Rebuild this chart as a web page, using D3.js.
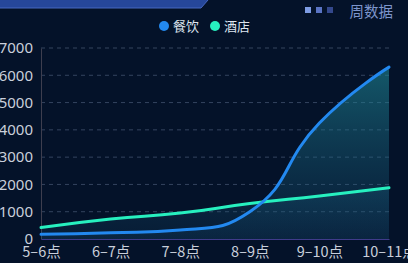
<!DOCTYPE html>
<html><head><meta charset="utf-8">
<script src="https://cdn.jsdelivr.net/npm/d3@7"></script>
<style>
html,body{margin:0;padding:0;background:#041229;}
svg{display:block;}
</style></head>
<body>
<svg id="c" width="408" height="263"></svg>
<script>
const categories = ["5–6点","6–7点","7–8点","8–9点","9–10点","10–11点"];
const seriesNames = ["餐饮","酒店"];
const dining = [170, 230, 330, 1000, 4250, 6300];
const hotel = [420, 730, 950, 1300, 1580, 1880];
const yTicks = [0,1000,2000,3000,4000,5000,6000,7000];
const colors = ["#2389f0", "#27f0bf"];

const svg = d3.select("#c");
const W = 408, H = 263;
const x = d3.scalePoint().domain(categories).range([41, 389]);
const y = d3.scaleLinear().domain([0, 7000]).range([239, 48]);

svg.append("rect").attr("width", W).attr("height", H).attr("fill", "#041229");

// top banner
svg.append("path").attr("d", "M0,0 L208,0 L201,8 L0,8 Z").attr("fill", "#26479a");
svg.append("path").attr("d", "M0,8 L201,8 L208,0").attr("fill", "none").attr("stroke", "#4668c0").attr("stroke-width", 1);

// top-right squares + text
const sq = [["#7e9ce4",305],["#5a74c4",316],["#34488c",327]];
sq.forEach(([c,xx]) => svg.append("rect").attr("x", xx).attr("y", 7).attr("width", 6).attr("height", 6).attr("fill", c));
svg.append("text").attr("x", 393).attr("y", 17).attr("text-anchor", "end")
  .attr("font-family", "'Noto Sans CJK SC', sans-serif").attr("font-size", 14.5)
  .attr("fill", "#7d95cc").text("周数据");

// legend
const lg = svg.append("g");
[[164, 0],[215, 1]].forEach(([lx, i]) => {
  lg.append("circle").attr("cx", lx).attr("cy", 26).attr("r", 5).attr("fill", colors[i]);
  lg.append("text").attr("x", lx + 9).attr("y", 30.5)
    .attr("font-family", "'Noto Sans CJK SC', sans-serif").attr("font-size", 13)
    .attr("fill", "#dfe6f0").text(seriesNames[i]);
});

// grid
const gridG = svg.append("g");
yTicks.filter(t => t > 0).forEach(t => {
  gridG.append("line").attr("x1", 41).attr("x2", 389).attr("y1", y(t)).attr("y2", y(t))
    .attr("stroke", "#34445f").attr("stroke-width", 1).attr("stroke-dasharray", "4,4");
});

// axes
const yAxis = d3.axisLeft(y).tickValues(yTicks).tickFormat(d3.format("d")).tickSize(0).tickPadding(8);
const yG = svg.append("g").attr("transform", "translate(41,0)").call(yAxis);
yG.select(".domain").attr("stroke", "#3e3e4e");
yG.selectAll("text").attr("font-family", "'Noto Sans', sans-serif").attr("font-size", 15).attr("fill", "#c9cfdb");

const xAxis = d3.axisBottom(x).tickSize(0).tickPadding(8);
const xG = svg.append("g").attr("transform", "translate(0,239)").call(xAxis);
xG.select(".domain").attr("stroke", "#3f3b8a");
xG.selectAll("text").attr("font-family", "'Noto Sans CJK SC', sans-serif").attr("font-size", 14.5).attr("fill", "#c9cfdb");

// echarts-like smoothing
function smoothPath(pts, smooth, closeTo) {
  const p = d3.path();
  let prevX, prevY, cpx0, cpy0;
  const n = pts.length;
  for (let i = 0; i < n; i++) {
    const [xx, yy] = pts[i];
    if (i === 0) { p.moveTo(xx, yy); cpx0 = xx; cpy0 = yy; }
    else {
      let cpx1, cpy1, nextCpx0, nextCpy0;
      if (i === n - 1) { cpx1 = xx; cpy1 = yy; }
      else {
        const [nx, ny] = pts[i + 1];
        let vx = nx - prevX, vy = ny - prevY;
        const dx0 = xx - prevX, dy0 = yy - prevY, dx1 = nx - xx, dy1 = ny - yy;
        const l0 = Math.hypot(dx0, dy0), l1 = Math.hypot(dx1, dy1);
        const r = l1 / (l0 + l1);
        nextCpx0 = xx + vx * smooth * r;
        nextCpy0 = yy + vy * smooth * r;
        nextCpx0 = Math.max(Math.min(nextCpx0, Math.max(nx, xx)), Math.min(nx, xx));
        nextCpy0 = Math.max(Math.min(nextCpy0, Math.max(ny, yy)), Math.min(ny, yy));
        vx = nextCpx0 - xx; vy = nextCpy0 - yy;
        cpx1 = xx - vx * l0 / l1;
        cpy1 = yy - vy * l0 / l1;
        cpx1 = Math.max(Math.min(cpx1, Math.max(prevX, xx)), Math.min(prevX, xx));
        cpy1 = Math.max(Math.min(cpy1, Math.max(prevY, yy)), Math.min(prevY, yy));
        vx = xx - cpx1; vy = yy - cpy1;
        nextCpx0 = xx + vx * l1 / l0;
        nextCpy0 = yy + vy * l1 / l0;
      }
      p.bezierCurveTo(cpx0, cpy0, cpx1, cpy1, xx, yy);
      cpx0 = nextCpx0; cpy0 = nextCpy0;
    }
    prevX = xx; prevY = yy;
  }
  if (closeTo !== undefined) {
    p.lineTo(pts[n - 1][0], closeTo);
    p.lineTo(pts[0][0], closeTo);
    p.closePath();
  }
  return p.toString();
}

const defs = svg.append("defs");
const grad = defs.append("linearGradient").attr("id", "ag").attr("gradientUnits", "userSpaceOnUse")
  .attr("x1", 0).attr("x2", 0).attr("y1", y(6500)).attr("y2", y(0));
grad.append("stop").attr("offset", 0).attr("stop-color", "#1f8c98").attr("stop-opacity", 0.6);
grad.append("stop").attr("offset", 1).attr("stop-color", "#1a5a80").attr("stop-opacity", 0.14);

const data = [dining, hotel];
data.forEach((vals) => {
  const pts = vals.map((v, j) => [x(categories[j]), y(v)]);
  svg.append("path").attr("d", smoothPath(pts, 0.5, y(0))).attr("fill", "url(#ag)");
});
[1, 0].forEach(i => {
  const pts = data[i].map((v, j) => [x(categories[j]), y(v)]);
  svg.append("path").attr("d", smoothPath(pts, 0.5)).attr("fill", "none")
    .attr("stroke", colors[i]).attr("stroke-width", 3).attr("stroke-linecap", "round");
});
</script>
</body></html>
